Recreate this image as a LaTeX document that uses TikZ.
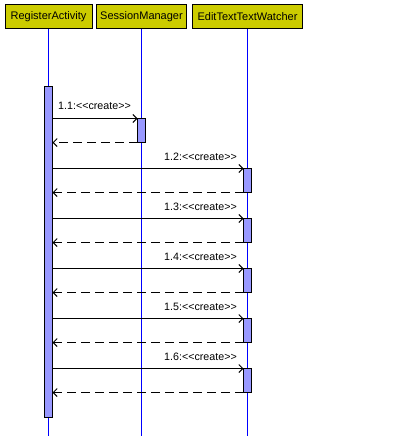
\documentclass[tikz,border=0pt]{standalone}
\usepackage{fontspec}
\setmainfont{Liberation Sans}
\usetikzlibrary{arrows.meta}
\definecolor{hdr}{RGB}{204,204,0}
\definecolor{act}{RGB}{153,153,255}
\definecolor{life}{RGB}{0,0,255}
\tikzset{
  x=1pt,y=-1pt,
  hdrbox/.style={draw=black,fill=hdr,line width=1pt,minimum height=24pt,inner sep=0pt,font=\fontsize{11}{13}\selectfont},
  lifeline/.style={draw=life,line width=1pt},
  actbar/.style={draw=black,fill=act,line width=1pt},
  msg/.style={draw=black,line width=1pt,-{Straight Barb[length=4pt,width=8pt,line width=1pt]}},
  ret/.style={msg,dash pattern=on 9pt off 5pt},
  lbl/.style={font=\fontsize{10.7}{12}\selectfont,inner sep=0pt}
}
\newcommand{\crt}{<{}<create>{}>}
\begin{document}
\begin{tikzpicture}
\useasboundingbox (0,0) rectangle (417,436);
% lifeline ends
\coordinate (e1) at (48.5,436);
\coordinate (e2) at (141.5,436);
\coordinate (e3) at (247.5,436);
% lifelines
\draw[lifeline] (48.5,29) -- (e1);
\draw[lifeline] (141.5,29) -- (e2);
\draw[lifeline] (247.5,29) -- (e3);
% headers
\node[hdrbox,minimum width=87pt] (h1) at (48.5,17) {RegisterActivity};
\node[hdrbox,minimum width=90pt] (h2) at (141.5,17) {SessionManager};
\node[hdrbox,minimum width=110pt] (h3) at (247.5,17) {EditTextTextWatcher};
% main activation
\draw[actbar] (44.5,86) rectangle (52.5,417);
% session manager activation
\draw[actbar] (137.5,118.5) rectangle (145.5,142.5);
\coordinate (s1) at (137.5,118.5);
\coordinate (s1r) at (52.5,142.5);
\draw[msg] (52.5,118.5) -- (s1);
\draw[ret] (137.5,142.5) -- (s1r);
\node[lbl,anchor=west] (l1) at (58,106.3) {1.1:\crt};
% edit text watcher activations
\foreach \i/\y in {2/168.5,3/218.5,4/268.5,5/318.5,6/368.5}{
  \draw[actbar] (243.5,\y) rectangle (251.5,\y+24);
  \coordinate (t\i) at (243.5,\y);
  \coordinate (t\i r) at (52.5,\y+24);
  \draw[msg] (52.5,\y) -- (t\i);
  \draw[ret] (243.5,\y+24) -- (t\i r);
  \node[lbl,anchor=east] (l\i) at (237,\y-11.8) {1.\i:\crt};
}
\end{tikzpicture}
\end{document}
